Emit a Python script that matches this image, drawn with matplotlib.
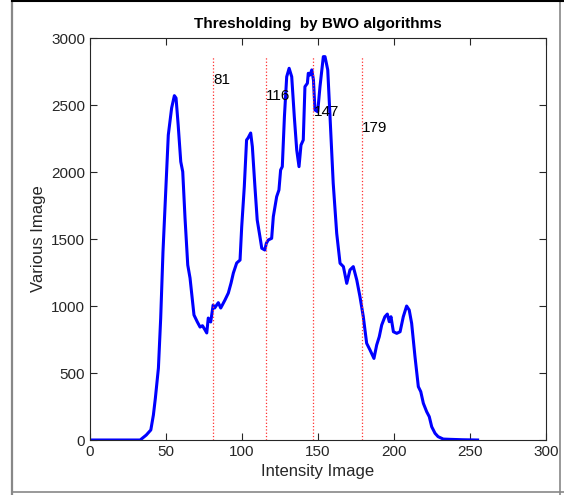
import matplotlib.pyplot as plt
from matplotlib.lines import Line2D

plt.rcParams['font.family'] = ['Liberation Sans', 'DejaVu Sans']

# histogram trace (intensity, count)
intensity = [0, 10, 20, 30, 33, 37, 40, 41.7, 43, 45, 46.5, 48, 50, 51.5, 53.7, 55.5,
             56.6, 58, 59.7, 61, 62.5, 64.3, 65.8, 67, 68.4, 70.6, 72.4, 74, 75.7, 76.8,
             77.8, 79.4, 81, 82, 84.4, 86, 88.8, 91, 92.8, 94.3, 96.5, 98.7, 99.8, 101.5,
             103, 104, 105.7, 106.8, 108.5, 110, 111.8, 113, 115, 116, 117.3, 119.5, 120.6,
             122.8, 124.3, 125.4, 126.5, 127.9, 129.4, 131, 132.7, 134.4, 136, 137.5, 138.8,
             140.3, 141.4, 143, 143.6, 144.7, 145.9, 147, 148, 149.8, 151.3, 153.5, 154.6,
             156.4, 157.9, 160, 162.3, 164.5, 166.7, 168.9, 171, 173.2, 175.5, 177.6, 179.8,
             182, 184.2, 186.8, 188.6, 190.3, 191.9, 194, 195.6, 196.9, 198, 199.6, 201.8,
             204, 206.1, 208.3, 210, 211.6, 213.8, 216, 217.6, 219.3, 221.5, 223.2, 224.8,
             227, 229, 232.4, 236.8, 245, 255]
counts = [0, 0, 0, 0, 0, 37, 75, 187, 313, 537, 910, 1403, 1903, 2276, 2478, 2570,
          2552, 2351, 2077, 2002, 1657, 1306, 1209, 1082, 933, 881, 843, 853, 821, 799,
          910, 881, 1007, 985, 1025, 985, 1045, 1097, 1172, 1246, 1321, 1343, 1592, 1890,
          2239, 2254, 2291, 2189, 1890, 1642, 1517, 1431, 1418, 1468, 1493, 1505, 1667,
          1816, 1866, 2015, 2040, 2413, 2711, 2774, 2711, 2413, 2164, 2040, 2201,
          2239, 2637, 2662, 2737, 2724, 2762, 2687, 2463, 2450, 2637, 2861, 2861,
          2762, 2413, 1916, 1542, 1319, 1294, 1169, 1269, 1294, 1194, 1070, 920,
          722, 672, 609, 709, 771, 858, 920, 940, 883, 920, 808, 796,
          808, 920, 1000, 970, 871, 622, 398, 361, 274, 211, 174, 99,
          50, 25, 7, 5, 2, 0]

thresholds = [81, 116, 147, 179]
label_y = [2687, 2567, 2448, 2328]

fig = plt.figure(figsize=(5.64, 4.95), dpi=100)
ax = fig.add_axes([0.1596, 0.1111, 0.8085, 0.8121])

ax.plot(intensity, counts, color='#0000ff', linewidth=2.2)
top = max(counts)
for t, ty in zip(thresholds, label_y):
    ax.plot([t, t], [0, top], color='#ff3030', linestyle=':', linewidth=0.9)
    ax.text(t, ty, str(t), fontsize=11, va='center', ha='left', color='black')

ax.set_xlim(0, 300)
ax.set_ylim(0, 3000)
ax.set_xticks(range(0, 301, 50))
ax.set_yticks(range(0, 3001, 500))
ax.tick_params(direction='in', top=True, right=True, labelsize=11,
               colors='#262626', length=5, width=0.8)
for s in ax.spines.values():
    s.set_color('#262626')
    s.set_linewidth(0.8)

ax.set_xlabel('Intensity Image', fontsize=12, color='#262626')
ax.set_ylabel('Various Image', fontsize=12, color='#262626')
ax.set_title('Thresholding  by BWO algorithms', fontsize=11, fontweight='bold', pad=7)

# screenshot frame
W, H = 564, 495
fig.add_artist(Line2D([11.5 / W, 11.5 / W], [0, 1], color='#888888', lw=1.6, transform=fig.transFigure))
fig.add_artist(Line2D([560 / W, 560 / W], [0, 1], color='#888888', lw=1.2, transform=fig.transFigure))
fig.add_artist(Line2D([11.5 / W, 1], [3 / H, 3 / H], color='#888888', lw=1.2, transform=fig.transFigure))
fig.add_artist(Line2D([11.5 / W, 1], [1 - 0.8 / H, 1 - 0.8 / H], color='black', lw=1.5, transform=fig.transFigure))

fig.savefig('out.png', dpi=100)
